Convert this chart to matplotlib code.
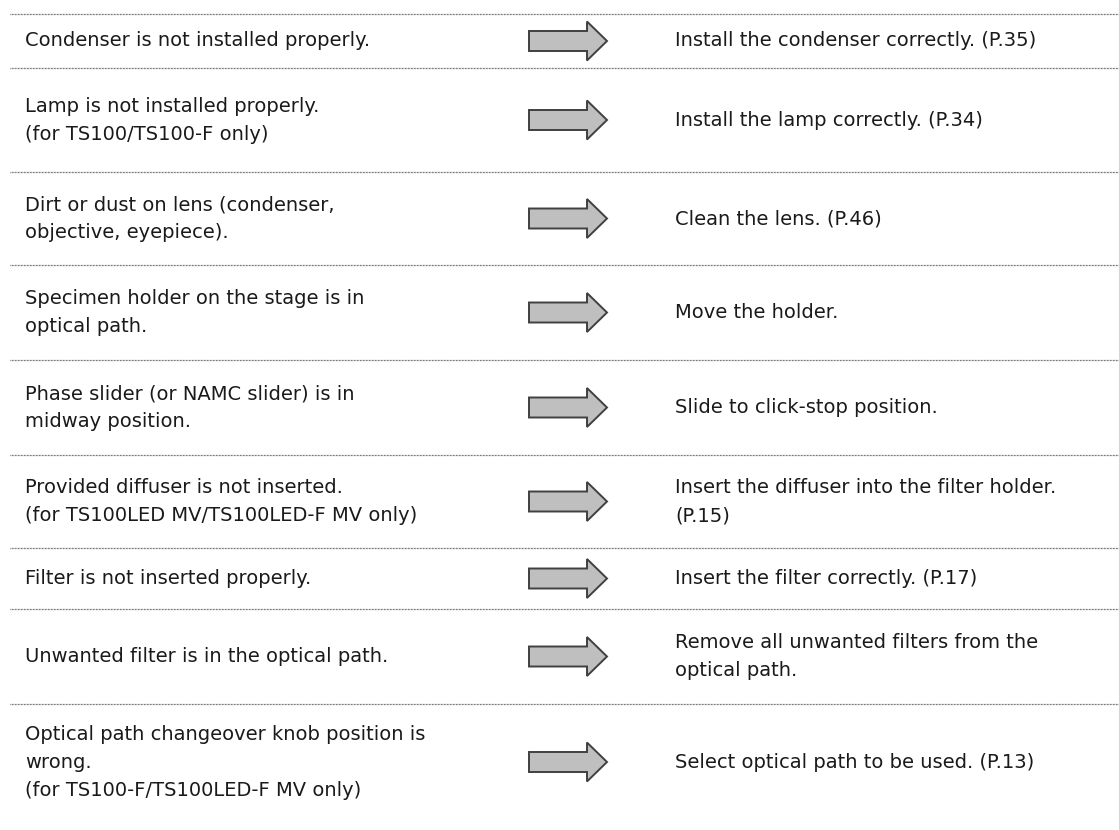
import matplotlib
matplotlib.use("Agg")
import matplotlib.pyplot as plt
from matplotlib.patches import FancyArrow

# Causes (left column) and remedies (right column), one entry per row
causes = [
    ["Condenser is not installed properly."],
    ["Lamp is not installed properly.", "(for TS100/TS100-F only)"],
    ["Dirt or dust on lens (condenser,", "objective, eyepiece)."],
    ["Specimen holder on the stage is in", "optical path."],
    ["Phase slider (or NAMC slider) is in", "midway position."],
    ["Provided diffuser is not inserted.", "(for TS100LED MV/TS100LED-F MV only)"],
    ["Filter is not inserted properly."],
    ["Unwanted filter is in the optical path."],
    ["Optical path changeover knob position is", "wrong.",
     "(for TS100-F/TS100LED-F MV only)"],
]
remedies = [
    ["Install the condenser correctly. (P.35)"],
    ["Install the lamp correctly. (P.34)"],
    ["Clean the lens. (P.46)"],
    ["Move the holder."],
    ["Slide to click-stop position."],
    ["Insert the diffuser into the filter holder.", "(P.15)"],
    ["Insert the filter correctly. (P.17)"],
    ["Remove all unwanted filters from the", "optical path."],
    ["Select optical path to be used. (P.13)"],
]

# layout (pixels)
W, H = 1119, 830
row_edges = [14, 68, 172, 265, 360, 455, 548, 609, 704]
last_center = 762
left_x, right_x = 25, 675
arrow_x0, arrow_len = 529, 78
pitch = 28

fig = plt.figure(figsize=(W / 100, H / 100), dpi=100)
ax = fig.add_axes([0, 0, 1, 1])
ax.set_xlim(0, W)
ax.set_ylim(H, 0)
ax.axis('off')

txt = dict(fontsize=14, color='#1a1a1a', va='center', ha='left',
           family='DejaVu Sans')

for i, (c, r) in enumerate(zip(causes, remedies)):
    top = row_edges[i]
    if i + 1 < len(row_edges):
        yc = (top + row_edges[i + 1]) / 2
    else:
        yc = last_center  # last row runs to the bottom edge
    # dotted separator on top of the row
    ax.plot([10, W], [top, top], color='#4d4d4d', lw=0.9,
            linestyle=(0, (0.6, 0.6)))

    for k, s in enumerate(c):
        ax.text(left_x, yc + (k - (len(c) - 1) / 2) * pitch, s, **txt)
    for k, s in enumerate(r):
        ax.text(right_x, yc + (k - (len(r) - 1) / 2) * pitch, s, **txt)

    ax.add_patch(FancyArrow(arrow_x0, yc, arrow_len, 0, width=20,
                            head_width=39, head_length=20,
                            length_includes_head=True,
                            facecolor='#bfbfbf', edgecolor='#404040', lw=1.4))

fig.savefig('out.png', dpi=100)
